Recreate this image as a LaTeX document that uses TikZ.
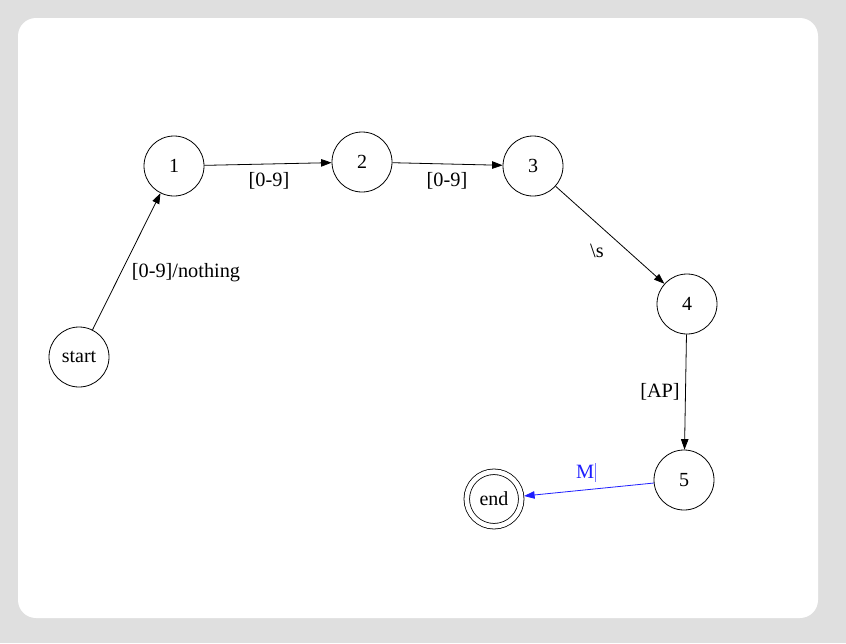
\documentclass[tikz,border=0pt]{standalone}
\usepackage{fontspec}
\setmainfont{Liberation Serif}
\usetikzlibrary{arrows.meta}
\definecolor{backgray}{HTML}{DFDFDF}
\definecolor{editblue}{HTML}{1E1EFF}
\tikzset{state/.style={circle, draw, line width=.8pt, minimum size=60pt, inner sep=0pt, font=\fontsize{20}{24}\selectfont}}
\tikzset{final/.style={state, double, double distance=4.7pt, minimum size=54.5pt, outer sep=3pt}}
\tikzset{lbl/.style={inner sep=0pt, font=\fontsize{20.3}{24}\selectfont}}

\begin{document}
\begin{tikzpicture}[x=1pt,y=-1pt]
  \useasboundingbox (0,0) rectangle (846,643);
  \fill[backgray] (0,0) rectangle (846,643);
  \fill[white, rounded corners=18pt] (18,18) rectangle (818,618);
  \foreach \x/\y/\lab/\txt in {
    79/357/start/start,
    174/166/s1/1,
    362/162/s2/2,
    533/166/s3/3,
    687/304/s4/4,
    684/480/s5/5%
  } {
    \node[state] (\lab) at (\x, \y) {\txt};
  }
  \node[final] (end) at (494,499) {end};
  \begin{scope}[every path/.append style={line width=.8pt, -{Triangle[length=10.5pt,width=7.5pt]}}]
    \foreach \u/\v in {
      start/s1,
      s1/s2,
      s2/s3,
      s3/s4,
      s4/s5%
    }{
      \draw (\u) -- (\v);
    }
    \draw[editblue] (s5) -- (end);
  \end{scope}
  % edge labels
  \node[lbl] (l01) at (186,273) {[0-9]/nothing};
  \node[lbl] (l12) at (269,181) {[0-9]};
  \node[lbl] (l23) at (447,181) {[0-9]};
  \node[lbl] (l34) at (597,251) {\textbackslash s};
  \node[lbl] (l45) at (660,392) {[AP]};
  \node[lbl, text=editblue] (l5e) at (586,472) {M\hspace{1pt}\textcolor{editblue!60}{\rule[-3pt]{.6pt}{19pt}}};
\end{tikzpicture}
\end{document}
